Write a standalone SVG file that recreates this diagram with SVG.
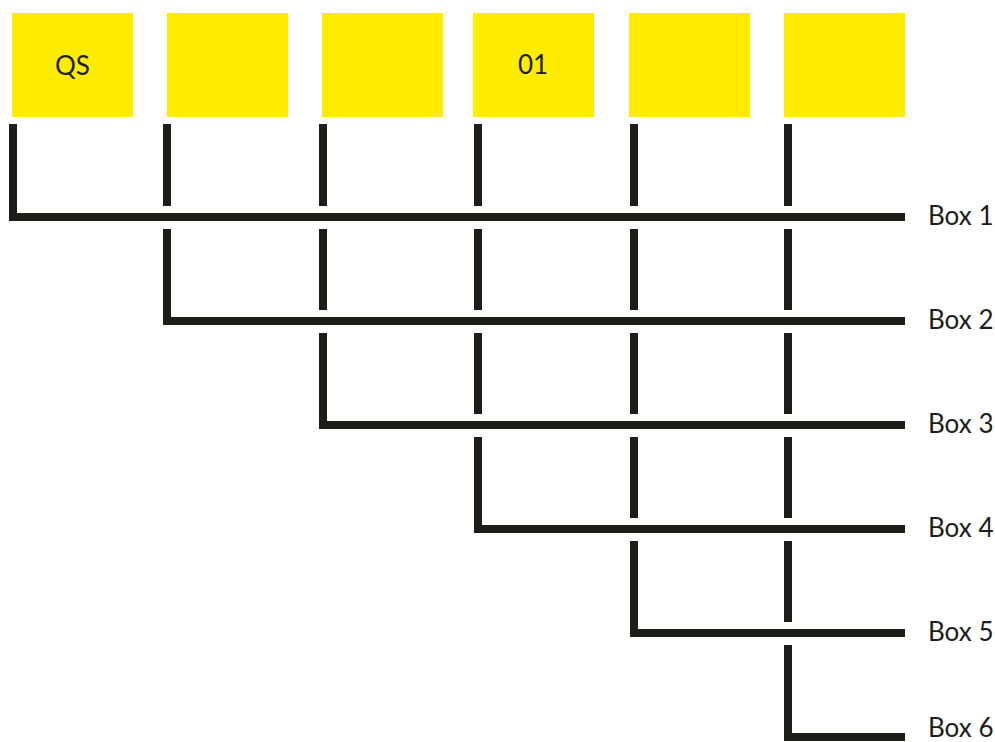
<svg xmlns="http://www.w3.org/2000/svg" width="995" height="742" viewBox="0 0 995 742">
<style>
.box{fill:#FFEC00}
.t{font-family:Lato,"Noto Sans","Liberation Sans",sans-serif;font-size:26px;fill:#1d1d1b}
.bt{text-anchor:middle}
.ln{fill:none;stroke:#1d1d1b;stroke-width:8;stroke-linejoin:miter;stroke-linecap:butt}
</style>
<rect width="995" height="742" fill="#ffffff"/>
<g id="node-qs"><rect class="box" x="12" y="13" width="121" height="104"/><text class="t bt" x="72.5" y="75">QS</text></g>
<g id="node-2"><rect class="box" x="167" y="13" width="121" height="104"/></g>
<g id="node-3"><rect class="box" x="322" y="13" width="121" height="104"/></g>
<g id="node-01"><rect class="box" x="473" y="13" width="121" height="104"/><text class="t bt" x="533" y="74">01</text></g>
<g id="node-5"><rect class="box" x="629" y="13" width="121" height="104"/></g>
<g id="node-6"><rect class="box" x="784" y="13" width="121" height="104"/></g>
<g id="connectors">
<polyline class="ln" points="13,124 13,217 905,217"/>
<polyline class="ln" points="167,124 167,206"/>
<polyline class="ln" points="167,229 167,321 905,321"/>
<polyline class="ln" points="323,124 323,206"/>
<polyline class="ln" points="323,229 323,310"/>
<polyline class="ln" points="323,333 323,425 905,425"/>
<polyline class="ln" points="478,124 478,206"/>
<polyline class="ln" points="478,229 478,310"/>
<polyline class="ln" points="478,333 478,414"/>
<polyline class="ln" points="478,437 478,529 905,529"/>
<polyline class="ln" points="634,124 634,206"/>
<polyline class="ln" points="634,229 634,310"/>
<polyline class="ln" points="634,333 634,414"/>
<polyline class="ln" points="634,437 634,518"/>
<polyline class="ln" points="634,541 634,633 905,633"/>
<polyline class="ln" points="788,124 788,206"/>
<polyline class="ln" points="788,229 788,310"/>
<polyline class="ln" points="788,333 788,414"/>
<polyline class="ln" points="788,437 788,518"/>
<polyline class="ln" points="788,541 788,622"/>
<polyline class="ln" points="788,645 788,737 905,737"/>
</g>
<g id="labels">
<text class="t" x="928" y="225">Box 1</text>
<text class="t" x="928" y="329">Box 2</text>
<text class="t" x="928" y="433">Box 3</text>
<text class="t" x="928" y="537">Box 4</text>
<text class="t" x="928" y="641">Box 5</text>
<text class="t" x="928" y="737">Box 6</text>
</g>
</svg>
